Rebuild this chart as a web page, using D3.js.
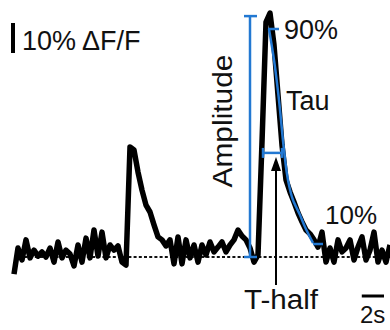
<!DOCTYPE html>
<html>
<head>
<meta charset="utf-8">
<script src="https://cdn.jsdelivr.net/npm/d3@7"></script>
<style>
  html, body { margin: 0; padding: 0; background: #fff; }
  svg { display: block; }
  text { font-family: "Liberation Sans", Arial, sans-serif; fill: #111; }
</style>
</head>
<body>
<svg id="chart" width="390" height="330"></svg>
<script>
// ---- data (ΔF/F in %, sampled every 0.36 s) ----
const sampleInterval = 0.36;
const traceValues = [
  -5.7, 3.0, -1.0, 5.7, -0.3, 2.3, 0.3, 1.7, 0.0, 3.0,
  -1.7, 5.0, -0.3, 2.3, 1.0, -3.0, 4.0, -1.7, 6.3, -0.3,
  9.0, 0.3, 8.3, -0.3, 4.0, 2.3, 3.7, -1.7, -2.7, 36.7,
  35.7, 28.3, 22.3, 17.3, 15.0, 10.7, 6.7, 5.7, 3.7, 5.7,
  -2.3, 6.7, -2.3, 5.7, -0.3, 4.0, -1.7, 4.0, 0.7, 5.0,
  1.7, 3.3, 5.0, 1.7, 4.0, 5.7, 9.0, 7.0, 5.7, 3.0,
  -1.7, 0.7, 38.3, 78.3, 81.3, 70.7, 54.0, 37.3, 25.7, 21.7,
  18.3, 14.7, 11.7, 9.0, 7.7, 5.7, 3.3, 8.3, -1.7, 3.0,
  -1.7, 5.7, 1.7, 3.0, 5.7, -1.0, 3.3, 6.7, -1.0, 2.3,
  8.3, -1.7, 2.3, -1.7, 4.0
];
// exponential decay fit (Tau): [time s, %]
const tauTimes  = [22.95, 23.40, 23.85, 24.30, 24.66, 25.11, 25.74, 26.19, 26.91];
const tauValues = [76.0, 65.7, 52.3, 35.7, 25.7, 19.0, 14.0, 10.0, 4.7];
// annotation values
const amplitudeTime = 21.24, amplitudeValue = 80.3;
const level90 = 76.0, level90Times = [22.86, 23.85];
const level10 = 4.33, level10Times = [26.91, 27.81];
const halfLevel = 34.7, halfTimes = [22.41, 24.12];
const arrowTime = 23.58, arrowFrom = -9.3, arrowTo = 33.3;
const scaleBarPct = 10, scaleBarSec = 2;
const labels = { scaleY: "10% \u0394F/F", scaleX: "2s", amp: "Amplitude", p90: "90%", p10: "10%", tau: "Tau", thalf: "T-half" };

// ---- scales ----
const tMax = sampleInterval * (traceValues.length - 1);
const x = d3.scaleLinear().domain([0, tMax]).range([14, 390]);
const y = d3.scaleLinear().domain([0, 80]).range([257, 17]);
const blue = "#2278d2";

const svg = d3.select("#chart");

// dotted baseline
svg.append("line")
  .attr("x1", x(0)).attr("x2", x(tMax))
  .attr("y1", y(0)).attr("y2", y(0))
  .attr("stroke", "#111").attr("stroke-width", 2.2)
  .attr("stroke-dasharray", "3,2.2");

// trace
const pts = traceValues.map((v, i) => [i * sampleInterval, v]);
svg.append("path")
  .datum(pts)
  .attr("fill", "none")
  .attr("stroke", "#000")
  .attr("stroke-width", 5.5)
  .attr("stroke-linejoin", "round")
  .attr("d", d3.line().x(d => x(d[0])).y(d => y(d[1])));

// amplitude bar
const g = svg.append("g").attr("stroke", blue).attr("stroke-width", 2.5).attr("fill", "none");
g.append("line").attr("x1", x(amplitudeTime)).attr("x2", x(amplitudeTime))
  .attr("y1", y(0)).attr("y2", y(amplitudeValue));
[0, amplitudeValue].forEach(v => {
  g.append("line").attr("x1", x(amplitudeTime) - 6).attr("x2", x(amplitudeTime) + 7)
    .attr("y1", y(v)).attr("y2", y(v));
});
// 90% tick
g.append("line").attr("x1", x(level90Times[0])).attr("x2", x(level90Times[1]))
  .attr("y1", y(level90)).attr("y2", y(level90));
// 10% tick
g.append("line").attr("x1", x(level10Times[0])).attr("x2", x(level10Times[1]))
  .attr("y1", y(level10)).attr("y2", y(level10));
// tau fit
g.append("path")
  .datum(tauTimes.map((t, i) => [t, tauValues[i]]))
  .attr("d", d3.line().x(d => x(d[0])).y(d => y(d[1])).curve(d3.curveMonotoneY));
// T-half bracket
g.append("line").attr("x1", x(halfTimes[0])).attr("x2", x(halfTimes[1]))
  .attr("y1", y(halfLevel)).attr("y2", y(halfLevel));
halfTimes.forEach(t => {
  g.append("line").attr("x1", x(t)).attr("x2", x(t))
    .attr("y1", y(halfLevel) - 5).attr("y2", y(halfLevel) + 5);
});

// arrow
const ax = x(arrowTime);
svg.append("line").attr("x1", ax).attr("x2", ax)
  .attr("y1", y(arrowFrom)).attr("y2", y(arrowTo) + 10)
  .attr("stroke", "#000").attr("stroke-width", 2);
svg.append("path")
  .attr("d", `M${ax},${y(arrowTo)} L${ax - 5},${y(arrowTo) + 14} L${ax + 5},${y(arrowTo) + 14} Z`)
  .attr("fill", "#000");

// scale bars
const sy0 = 68;
svg.append("line").attr("x1", x(0) - 1).attr("x2", x(0) - 1)
  .attr("y1", y(sy0)).attr("y2", y(sy0 + scaleBarPct))
  .attr("stroke", "#000").attr("stroke-width", 4);
const sx0 = 31.3;
svg.append("line").attr("x1", x(sx0)).attr("x2", x(sx0 + scaleBarSec))
  .attr("y1", 296).attr("y2", 296)
  .attr("stroke", "#000").attr("stroke-width", 3);

// labels
svg.append("text").attr("x", 22).attr("y", 50).attr("font-size", 27).text(labels.scaleY);
svg.append("text").attr("x", 284).attr("y", 39).attr("font-size", 27).text(labels.p90);
svg.append("text").attr("x", 286).attr("y", 110).attr("font-size", 27).text(labels.tau);
svg.append("text").attr("x", 325).attr("y", 224).attr("font-size", 26).text(labels.p10);
svg.append("text").attr("x", 281).attr("y", 309).attr("font-size", 27)
  .attr("text-anchor", "middle").attr("textLength", 74).attr("lengthAdjust", "spacingAndGlyphs").text(labels.thalf);
svg.append("text").attr("x", 360).attr("y", 323).attr("font-size", 24).text(labels.scaleX);
svg.append("text").attr("transform", "translate(232,121) rotate(-90)")
  .attr("font-size", 27).attr("text-anchor", "middle")
  .attr("textLength", 133).attr("lengthAdjust", "spacingAndGlyphs").text(labels.amp);
</script>
</body>
</html>
